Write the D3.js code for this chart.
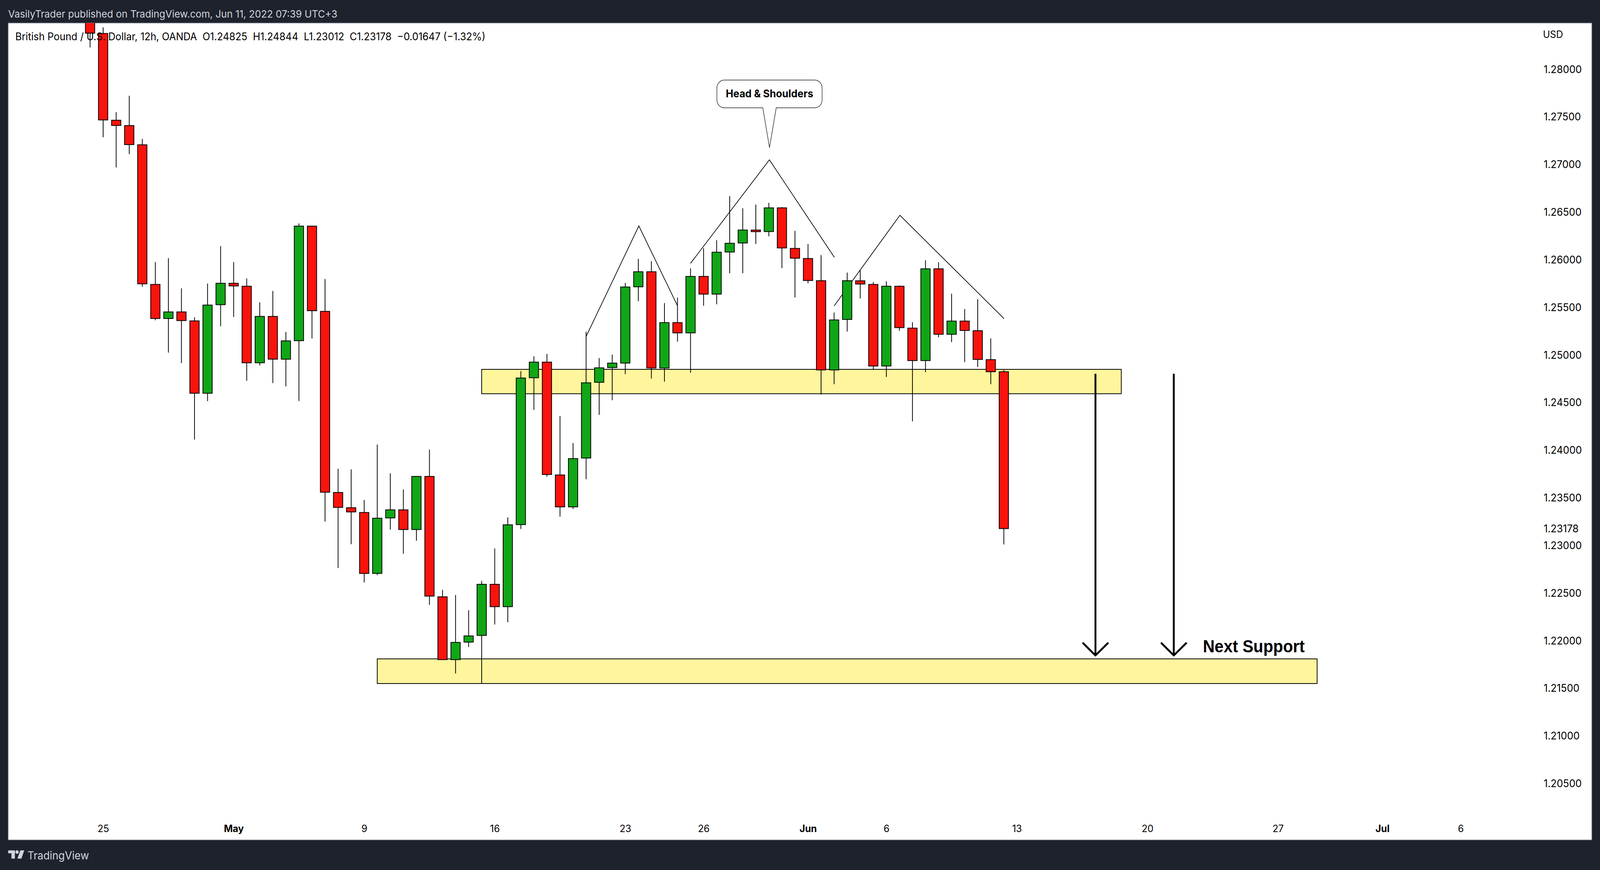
<!DOCTYPE html>
<html>
<head>
<meta charset="utf-8">
<title>GBPUSD 12h</title>
<script src="https://cdn.jsdelivr.net/npm/d3@7"></script>
<style>
  html, body { margin: 0; padding: 0; background: #1e222d; overflow: hidden; }
  svg { display: block; }
</style>
</head>
<body>
<div id="chart"></div>
<script>
// candles, oldest first (x is the bar number)
var opens = [
  1.28564, 1.28377, 1.27466, 1.27410, 1.27208, 1.25742, 1.25384, 1.25453, 1.25359, 1.24599,
  1.25529, 1.25754, 1.25723, 1.24919, 1.25406, 1.24957, 1.25151, 1.26354, 1.25459, 1.23557,
  1.23397, 1.23347, 1.22707, 1.23290, 1.23375, 1.23168, 1.23726, 1.22462, 1.21802, 1.21986,
  1.22056, 1.22593, 1.22358, 1.23220, 1.24762, 1.24926, 1.23741, 1.23406, 1.23919, 1.24714,
  1.24868, 1.24916, 1.25717, 1.25875, 1.24864, 1.25341, 1.25233, 1.25826, 1.25640, 1.26082,
  1.26177, 1.26313, 1.26297, 1.26546, 1.26120, 1.26014, 1.25781, 1.24844, 1.25374, 1.25780,
  1.25742, 1.24885, 1.25723, 1.25283, 1.24942, 1.25906, 1.25218, 1.25357, 1.25256, 1.24952,
  1.24825
];
var highs = [
  1.28646, 1.28441, 1.27551, 1.27723, 1.27269, 1.25977, 1.26018, 1.25701, 1.25397, 1.25751,
  1.26144, 1.25977, 1.25804, 1.25553, 1.25673, 1.25243, 1.26382, 1.26360, 1.25798, 1.23806,
  1.23799, 1.23479, 1.24060, 1.23758, 1.23589, 1.23730, 1.24007, 1.22535, 1.22481, 1.22321,
  1.22629, 1.22969, 1.23297, 1.24832, 1.24987, 1.25012, 1.24360, 1.24077, 1.25246, 1.24968,
  1.25005, 1.25758, 1.26010, 1.25986, 1.25546, 1.25603, 1.25911, 1.26123, 1.26206, 1.26669,
  1.26542, 1.26580, 1.26599, 1.26554, 1.26304, 1.26165, 1.26050, 1.25447, 1.25866, 1.25894,
  1.25767, 1.25775, 1.25730, 1.25345, 1.25996, 1.25976, 1.25644, 1.25484, 1.25586, 1.25176,
  1.24844
];
var lows = [
  1.28230, 1.27288, 1.26970, 1.27110, 1.25717, 1.25365, 1.25026, 1.24916, 1.24114, 1.24516,
  1.25303, 1.25400, 1.24731, 1.24891, 1.24706, 1.24671, 1.24518, 1.25174, 1.23252, 1.22764,
  1.23014, 1.22612, 1.22690, 1.23168, 1.22914, 1.23051, 1.22377, 1.21800, 1.21657, 1.21934,
  1.21551, 1.22171, 1.22195, 1.23174, 1.24425, 1.23724, 1.23304, 1.23384, 1.23696, 1.24372,
  1.24526, 1.24799, 1.25566, 1.24754, 1.24721, 1.25141, 1.24815, 1.25518, 1.25533, 1.25859,
  1.25859, 1.26167, 1.26247, 1.25913, 1.25605, 1.25754, 1.24587, 1.24694, 1.25247, 1.25594,
  1.24850, 1.24770, 1.25254, 1.24304, 1.24820, 1.25186, 1.25136, 1.24926, 1.24875, 1.24694,
  1.23012
];
var closes = [
  1.28380, 1.27469, 1.27411, 1.27210, 1.25748, 1.25384, 1.25453, 1.25362, 1.24599, 1.25525,
  1.25754, 1.25726, 1.24919, 1.25406, 1.24957, 1.25149, 1.26354, 1.25466, 1.23560, 1.23400,
  1.23353, 1.22707, 1.23287, 1.23375, 1.23168, 1.23726, 1.22469, 1.21802, 1.21983, 1.22051,
  1.22593, 1.22358, 1.23218, 1.24759, 1.24926, 1.23746, 1.23406, 1.23913, 1.24709, 1.24866,
  1.24916, 1.25715, 1.25875, 1.24864, 1.25341, 1.25233, 1.25826, 1.25640, 1.26080, 1.26174,
  1.26313, 1.26296, 1.26546, 1.26125, 1.26017, 1.25783, 1.24844, 1.25369, 1.25781, 1.25746,
  1.24885, 1.25723, 1.25288, 1.24942, 1.25906, 1.25218, 1.25357, 1.25258, 1.24954, 1.24825,
  1.23178
];

var price_ticks = [1.28, 1.275, 1.27, 1.265, 1.26, 1.255, 1.25, 1.245, 1.24, 1.235, 1.23,
  1.225, 1.22, 1.215, 1.21, 1.205];
var last_price = 1.23178;

var date_bars = [1, 11, 21, 31, 41, 47, 55, 61, 71, 81, 91, 99, 105];
var date_labels = ['25', 'May', '9', '16', '23', '26', 'Jun', '6', '13', '20', '27', 'Jul', '6'];
var month_labels = ['May', 'Jun', 'Jul'];

// drawings, in bar number and price
var zones = [
  {bar0: 30, bar1: 79, top: 1.24850, bottom: 1.24594},
  {bar0: 22, bar1: 94, top: 1.21810, bottom: 1.21551}
];
var shoulders = [
  [[38, 1.25195], [42.04, 1.26356], [45, 1.25518]],
  [[46, 1.25963], [52.04, 1.27050], [57.02, 1.26026]],
  [[57, 1.25516], [62.04, 1.26468], [70.02, 1.25382]]
];
var arrow_bars = [77.02, 83.02];
var arrow_top = 1.24804;
var arrow_tip = 1.21846;
var callout_tip = [52.05, 1.27178];
var support_label = [85.25, 1.21880];

var title_text = 'British Pound / U.S. Dollar, 12h, OANDA  O1.24825  H1.24844  L1.23012  C1.23178  \u22120.01647 (\u22121.32%)';
var header_text = 'VasilyTrader published on TradingView.com, Jun 11, 2022 07:39 UTC+3';

// the drawing is laid out at the reference size, the viewBox fits it to the window
var width = 4290;
var height = 2226;
var pane = {left: 22, top: 59, right: 4268, bottom: 2149};
var ui_font = 'Inter, Roboto, sans-serif';
var bg_color = '#1e222d';
var up_color = '#11a617';
var down_color = '#f8140c';
var zone_color = '#fff59d';

var x = d3.scaleLinear().domain([0, 100]).range([241.5, 3741.5]);
var y = d3.scaleLinear().domain([1.28, 1.205]).range([177.5, 2005]);

var svg = d3.select('#chart')
  .append('svg')
  .attr('width', window.innerWidth)
  .attr('height', window.innerHeight)
  .attr('viewBox', '0 0 ' + width + ' ' + height)
  .attr('preserveAspectRatio', 'none');

svg.append('rect')
  .attr('width', width)
  .attr('height', height)
  .attr('fill', bg_color);

svg.append('rect')
  .attr('x', pane.left)
  .attr('y', pane.top)
  .attr('width', pane.right - pane.left)
  .attr('height', pane.bottom - pane.top)
  .attr('fill', 'white')
  .attr('stroke', '#8b8e97')
  .attr('stroke-width', 1.5);

svg.append('clipPath')
  .attr('id', 'pane_clip')
  .append('rect')
  .attr('x', pane.left)
  .attr('y', pane.top)
  .attr('width', pane.right - pane.left)
  .attr('height', pane.bottom - pane.top);

var plot = svg.append('g').attr('clip-path', 'url(#pane_clip)');

// yellow zones go under the candles
plot.selectAll('.zone')
  .data(zones)
  .enter()
  .append('rect')
  .attr('class', 'zone')
  .attr('x', function(d) { return x(d.bar0); })
  .attr('y', function(d) { return y(d.top); })
  .attr('width', function(d) { return x(d.bar1) - x(d.bar0); })
  .attr('height', function(d) { return y(d.bottom) - y(d.top); })
  .attr('fill', zone_color)
  .attr('stroke', 'black')
  .attr('stroke-width', 2);

// pattern lines, also under the candles
var line = d3.line()
  .x(function(d) { return x(d[0]); })
  .y(function(d) { return y(d[1]); });

plot.selectAll('.shoulder')
  .data(shoulders)
  .enter()
  .append('path')
  .attr('class', 'shoulder')
  .attr('d', line)
  .attr('fill', 'none')
  .attr('stroke', 'black')
  .attr('stroke-width', 1.8);

// candles
var body_width = 25;
var bars = d3.range(opens.length);

plot.selectAll('.wick')
  .data(bars)
  .enter()
  .append('line')
  .attr('class', 'wick')
  .attr('x1', function(i) { return x(i); })
  .attr('x2', function(i) { return x(i); })
  .attr('y1', function(i) { return y(highs[i]); })
  .attr('y2', function(i) { return y(lows[i]); })
  .attr('stroke', 'black')
  .attr('stroke-width', 2);

plot.selectAll('.body')
  .data(bars)
  .enter()
  .append('rect')
  .attr('class', 'body')
  .attr('x', function(i) { return x(i) - body_width / 2; })
  .attr('y', function(i) { return y(Math.max(opens[i], closes[i])); })
  .attr('width', body_width)
  .attr('height', function(i) { return Math.abs(y(opens[i]) - y(closes[i])); })
  .attr('fill', function(i) { return closes[i] >= opens[i] ? up_color : down_color; })
  .attr('stroke', 'black')
  .attr('stroke-width', 2);

// target arrows
var arrow_wing_dx = 34.4;
var arrow_wing_dy = 32.7;
arrow_bars.forEach(function(bar) {
  var ax = x(bar);
  var ay = y(arrow_tip);
  plot.append('line')
    .attr('x1', ax)
    .attr('x2', ax)
    .attr('y1', y(arrow_top))
    .attr('y2', ay)
    .attr('stroke', 'black')
    .attr('stroke-width', 5);
  plot.append('path')
    .attr('d', 'M' + (ax - arrow_wing_dx) + ',' + (ay - arrow_wing_dy) +
      'L' + ax + ',' + ay +
      'L' + (ax + arrow_wing_dx) + ',' + (ay - arrow_wing_dy))
    .attr('fill', 'none')
    .attr('stroke', 'black')
    .attr('stroke-width', 5)
    .attr('stroke-linejoin', 'round');
});

plot.append('text')
  .attr('x', x(support_label[0]))
  .attr('y', y(support_label[1]))
  .attr('font-family', '"Liberation Sans", Arial, sans-serif')
  .attr('font-weight', 700)
  .attr('font-size', 43.5)
  .attr('fill', 'black')
  .text('Next Support');

// speech bubble above the head
var tip_x = x(callout_tip[0]);
var tip_y = y(callout_tip[1]);
var box = {left: tip_x - 141, right: tip_x + 141, top: tip_y - 173, bottom: tip_y - 102, r: 20};
var bubble = d3.path();
bubble.moveTo(box.left + box.r, box.top);
bubble.arcTo(box.right, box.top, box.right, box.bottom, box.r);
bubble.arcTo(box.right, box.bottom, box.left, box.bottom, box.r);
bubble.lineTo(tip_x + 18, box.bottom);
bubble.lineTo(tip_x, tip_y);
bubble.lineTo(tip_x - 18, box.bottom);
bubble.arcTo(box.left, box.bottom, box.left, box.top, box.r);
bubble.arcTo(box.left, box.top, box.right, box.top, box.r);
bubble.closePath();

plot.append('path')
  .attr('d', bubble.toString())
  .attr('fill', 'white')
  .attr('stroke', '#222')
  .attr('stroke-width', 1.4);

plot.append('text')
  .attr('x', tip_x)
  .attr('y', box.top + 44)
  .attr('text-anchor', 'middle')
  .attr('font-family', ui_font)
  .attr('font-weight', 700)
  .attr('font-size', 27)
  .attr('fill', 'black')
  .text('Head & Shoulders');

// price axis
var price_axis = d3.axisRight(y)
  .tickValues(price_ticks.concat([last_price]))
  .tickSize(0)
  .tickPadding(0)
  .tickFormat(d3.format('.5f'));

var price_g = svg.append('g')
  .attr('transform', 'translate(4139,0)')
  .call(price_axis);

price_g.select('.domain').remove();
price_g.selectAll('text')
  .attr('font-family', ui_font)
  .attr('font-size', 26.8)
  .attr('fill', 'black');

svg.append('text')
  .attr('x', 4137)
  .attr('y', 97)
  .attr('font-family', ui_font)
  .attr('font-size', 25.5)
  .attr('fill', 'black')
  .text('USD');

// time axis
var time_axis = d3.axisBottom(x)
  .tickValues(date_bars)
  .tickSize(0)
  .tickPadding(0)
  .tickFormat(function(d, i) { return date_labels[i]; });

var time_g = svg.append('g')
  .attr('transform', 'translate(0,2111)')
  .call(time_axis);

time_g.select('.domain').remove();
time_g.selectAll('text')
  .attr('font-family', ui_font)
  .attr('font-size', 25.5)
  .attr('fill', 'black')
  .attr('font-weight', function(d, i) {
    return month_labels.indexOf(date_labels[i]) >= 0 ? 700 : 400;
  });

// legend line and the dark frame
svg.append('text')
  .attr('x', 41)
  .attr('y', 103)
  .attr('font-family', ui_font)
  .attr('font-size', 26.5)
  .attr('fill', 'black')
  .style('white-space', 'pre')
  .text(title_text);

svg.append('text')
  .attr('x', 22)
  .attr('y', 45)
  .attr('font-family', ui_font)
  .attr('font-size', 26.2)
  .attr('fill', '#d1d4dc')
  .text(header_text);

// TradingView mark
svg.append('path')
  .attr('d', 'M22,2175.7H40V2196.7H30.7V2183.3H22Z')
  .attr('fill', '#d1d4dc');
svg.append('circle')
  .attr('cx', 45.7)
  .attr('cy', 2180)
  .attr('r', 4.5)
  .attr('fill', '#d1d4dc');
svg.append('path')
  .attr('d', 'M54.5,2175.7H65L57.5,2196.7H46.5Z')
  .attr('fill', '#d1d4dc');

svg.append('text')
  .attr('x', 73.5)
  .attr('y', 2199)
  .attr('font-family', ui_font)
  .attr('font-size', 28)
  .attr('fill', '#d1d4dc')
  .text('TradingView');
</script>
</body>
</html>
